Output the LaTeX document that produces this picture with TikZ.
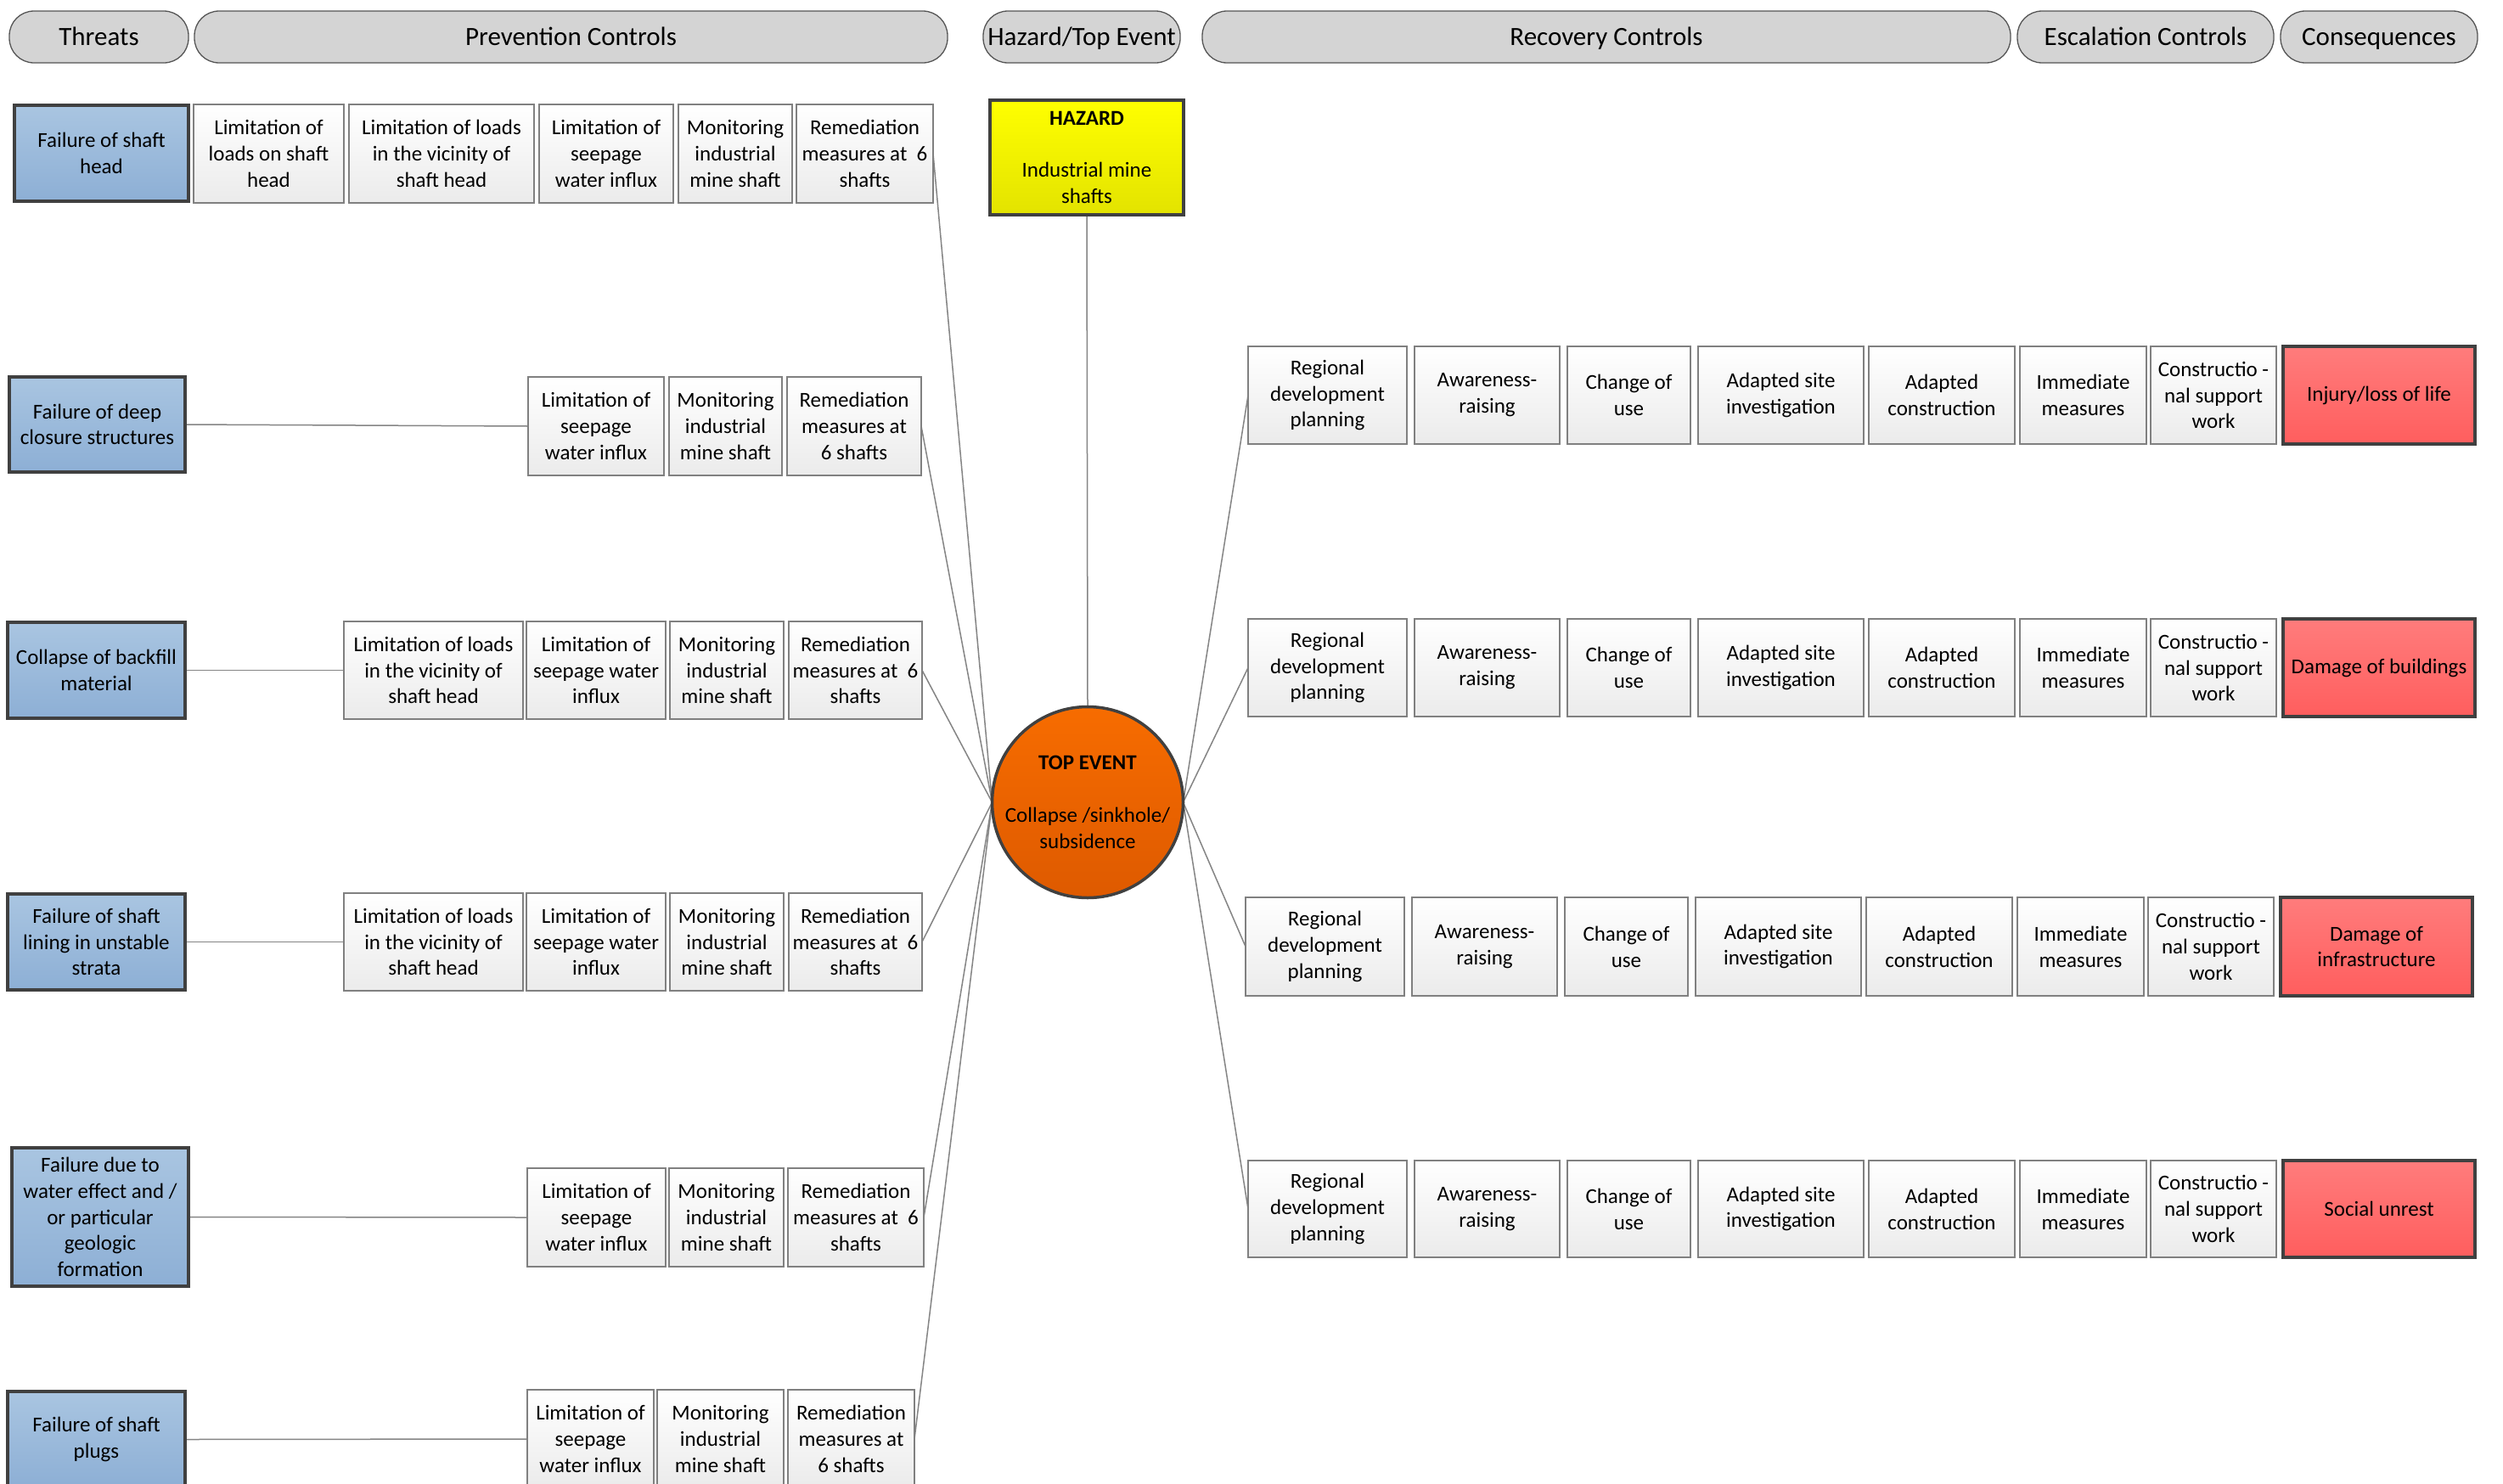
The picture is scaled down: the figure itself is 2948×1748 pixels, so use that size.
\documentclass[tikz,border=0pt]{standalone}
\usepackage{fontspec}
\setmainfont{Carlito}
\usetikzlibrary{backgrounds}
\definecolor{darkb}{HTML}{404040}
\definecolor{ctrlb}{HTML}{808080}
\definecolor{linec}{HTML}{858585}
\definecolor{pillf}{HTML}{D4D4D4}
\definecolor{pillb}{HTML}{555555}
\newcommand\mkbox[7]{%
  \node[#1, minimum width={(#5)-(#3)}, minimum height={(#6)-(#4)}] (#2)
    at ({((#3)+(#5))/2},{((#4)+(#6))/2}) {#7};}
\newcommand\recrow[5]{%
  \mkbox{ctrl}{#1a}{1470+#4}{#2}{1657+#4}{#3}{Regional\\development\\planning}
  \mkbox{ctrl}{#1b}{1666+#4}{#2}{1837+#4}{#3}{Awareness-\\raising}
  \mkbox{ctrl}{#1c}{1846+#4}{#2}{1991+#4}{#3}{Change of\\use}
  \mkbox{ctrl}{#1d}{2000+#4}{#2}{2195+#4}{#3}{Adapted site\\investigation}
  \mkbox{ctrl}{#1e}{2201+#4}{#2}{2373+#4}{#3}{Adapted\\construction}
  \mkbox{ctrl}{#1f}{2379+#4}{#2}{2528+#4}{#3}{Immediate\\measures}
  \mkbox{ctrl}{#1g}{2533+#4}{#2}{2681+#4}{#3}{Constructio -\\nal support\\work}
  \mkbox{cons}{#1h}{2689+#4}{#2}{2915+#4}{#3}{#5}
}
\begin{document}
\begin{tikzpicture}[x=1pt,y=-1pt,
  every node/.style={font=\fontsize{25}{30.8}\selectfont, inner sep=0pt, outer sep=0pt, align=center, text=black},
  pill/.style={draw=pillb, line width=1.3pt, fill=pillf, rounded corners=29pt, font=\fontsize{31}{36}\selectfont, text height=25pt, text depth=6pt},
  threat/.style={draw=darkb, line width=3.5pt, top color={rgb,255:red,169;green,197;blue,225}, bottom color={rgb,255:red,141;green,175;blue,213}},
  ctrl/.style={draw=ctrlb, line width=1.5pt, top color=white, bottom color={rgb,255:red,235;green,235;blue,235}},
  cons/.style={draw=darkb, line width=3.5pt, top color={rgb,255:red,255;green,124;blue,124}, bottom color={rgb,255:red,255;green,94;blue,94}},
  haz/.style={draw=darkb, line width=3.5pt, top color={rgb,255:red,255;green,255;blue,0}, bottom color={rgb,255:red,227;green,227;blue,0}},
  topev/.style={circle, draw=darkb, line width=3.5pt, top color={rgb,255:red,247;green,108;blue,0}, bottom color={rgb,255:red,222;green,90;blue,0}, minimum size=225pt},
  conn/.style={draw=linec, line width=1.5pt}]
\useasboundingbox (0,0) rectangle (2948,1748);

% headers
\mkbox{pill}{hT}{11}{13}{222}{74}{Threats}
\mkbox{pill}{hP}{229}{13}{1116}{74}{Prevention Controls}
\mkbox{pill}{hH}{1158}{13}{1390}{74}{Hazard/Top Event}
\mkbox{pill}{hR}{1416}{13}{2368}{74}{Recovery Controls}
\mkbox{pill}{hE}{2376}{13}{2678}{74}{Escalation Controls}
\mkbox{pill}{hC}{2686}{13}{2918}{74}{Consequences}

% hazard and top event
\mkbox{haz}{hz}{1166}{118}{1394}{253}{\textbf{HAZARD}\\ \\Industrial mine\\shafts}
\node[topev] (te) at (1281,945) {\textbf{TOP EVENT}\\ \\Collapse /sinkhole/\\subsidence};

% threats
\mkbox{threat}{t1}{17}{124}{222}{237}{Failure of shaft\\head}
\mkbox{threat}{t2}{11}{444}{218}{556}{Failure of deep\\closure structures}
\mkbox{threat}{t3}{9}{733}{218}{846}{Collapse of backfill\\material}
\mkbox{threat}{t4}{9}{1053}{218}{1166}{Failure of shaft\\lining in unstable\\strata}
\mkbox{threat}{t5}{14}{1352}{222}{1515}{Failure due to\\water effect and /\\or particular\\geologic\\formation}
\mkbox{threat}{t6}{9}{1639}{218}{1752}{Failure of shaft\\plugs}

% prevention row 1
\mkbox{ctrl}{p1a}{228}{123}{405}{239}{Limitation of\\loads on shaft\\head}
\mkbox{ctrl}{p1b}{411}{123}{629}{239}{Limitation of loads\\in the vicinity of\\shaft head}
\mkbox{ctrl}{p1c}{635}{123}{793}{239}{Limitation of\\seepage\\water influx}
\mkbox{ctrl}{p1d}{799}{123}{933}{239}{Monitoring\\industrial\\mine shaft}
\mkbox{ctrl}{p1e}{938}{123}{1099}{239}{Remediation\\measures at\ \ 6\\shafts}
% row 2
\mkbox{ctrl}{p2a}{622}{444}{782}{560}{Limitation of\\seepage\\water influx}
\mkbox{ctrl}{p2b}{788}{444}{921}{560}{Monitoring\\industrial\\mine shaft}
\mkbox{ctrl}{p2e}{927}{444}{1085}{560}{Remediation\\measures at\\6 shafts}
% row 3
\mkbox{ctrl}{p3a}{405}{732}{616}{847}{Limitation of loads\\in the vicinity of\\shaft head}
\mkbox{ctrl}{p3b}{620}{732}{784}{847}{Limitation of\\seepage water\\influx}
\mkbox{ctrl}{p3c}{789}{732}{923}{847}{Monitoring\\industrial\\mine shaft}
\mkbox{ctrl}{p3e}{929}{732}{1086}{847}{Remediation\\measures at\ \ 6\\shafts}
% row 4
\mkbox{ctrl}{p4a}{405}{1052}{616}{1167}{Limitation of loads\\in the vicinity of\\shaft head}
\mkbox{ctrl}{p4b}{620}{1052}{784}{1167}{Limitation of\\seepage water\\influx}
\mkbox{ctrl}{p4c}{789}{1052}{923}{1167}{Monitoring\\industrial\\mine shaft}
\mkbox{ctrl}{p4e}{929}{1052}{1086}{1167}{Remediation\\measures at\ \ 6\\shafts}
% row 5
\mkbox{ctrl}{p5a}{621}{1376}{784}{1492}{Limitation of\\seepage\\water influx}
\mkbox{ctrl}{p5b}{788}{1376}{923}{1492}{Monitoring\\industrial\\mine shaft}
\mkbox{ctrl}{p5e}{928}{1376}{1088}{1492}{Remediation\\measures at\ \ 6\\shafts}
% row 6
\mkbox{ctrl}{p6a}{621}{1637}{770}{1753}{Limitation of\\seepage\\water influx}
\mkbox{ctrl}{p6b}{774}{1637}{923}{1753}{Monitoring\\industrial\\mine shaft}
\mkbox{ctrl}{p6e}{928}{1637}{1077}{1753}{Remediation\\measures at\\6 shafts}

% recovery rows
\recrow{rA}{408}{523}{0}{Injury/loss of life}
\recrow{rB}{729}{844}{0}{Damage of buildings}
\recrow{rC}{1057}{1173}{(-3)}{Damage of\\infrastructure}
\recrow{rD}{1367}{1481}{0}{Social unrest}

% connectors
\begin{pgfonlayer}{background}
\fill[white] (0,0) rectangle (2948,1748);
\draw[conn] (t2.east) -- (p2a.west);
\draw[conn] (t3.east) -- (p3a.west);
\draw[conn] (t4.east) -- (p4a.west);
\draw[conn] (t5.east) -- (p5a.west);
\draw[conn] (t6.east) -- (p6a.west);
\foreach \n in {p1e,p2e,p3e,p4e,p5e,p6e}{\draw[conn] (\n.east) -- (te.west);}
\foreach \n in {rAa,rBa,rCa,rDa}{\draw[conn] (te.east) -- (\n.west);}
\draw[conn] (hz.south) -- (te.north);
\end{pgfonlayer}
\end{tikzpicture}
\end{document}
